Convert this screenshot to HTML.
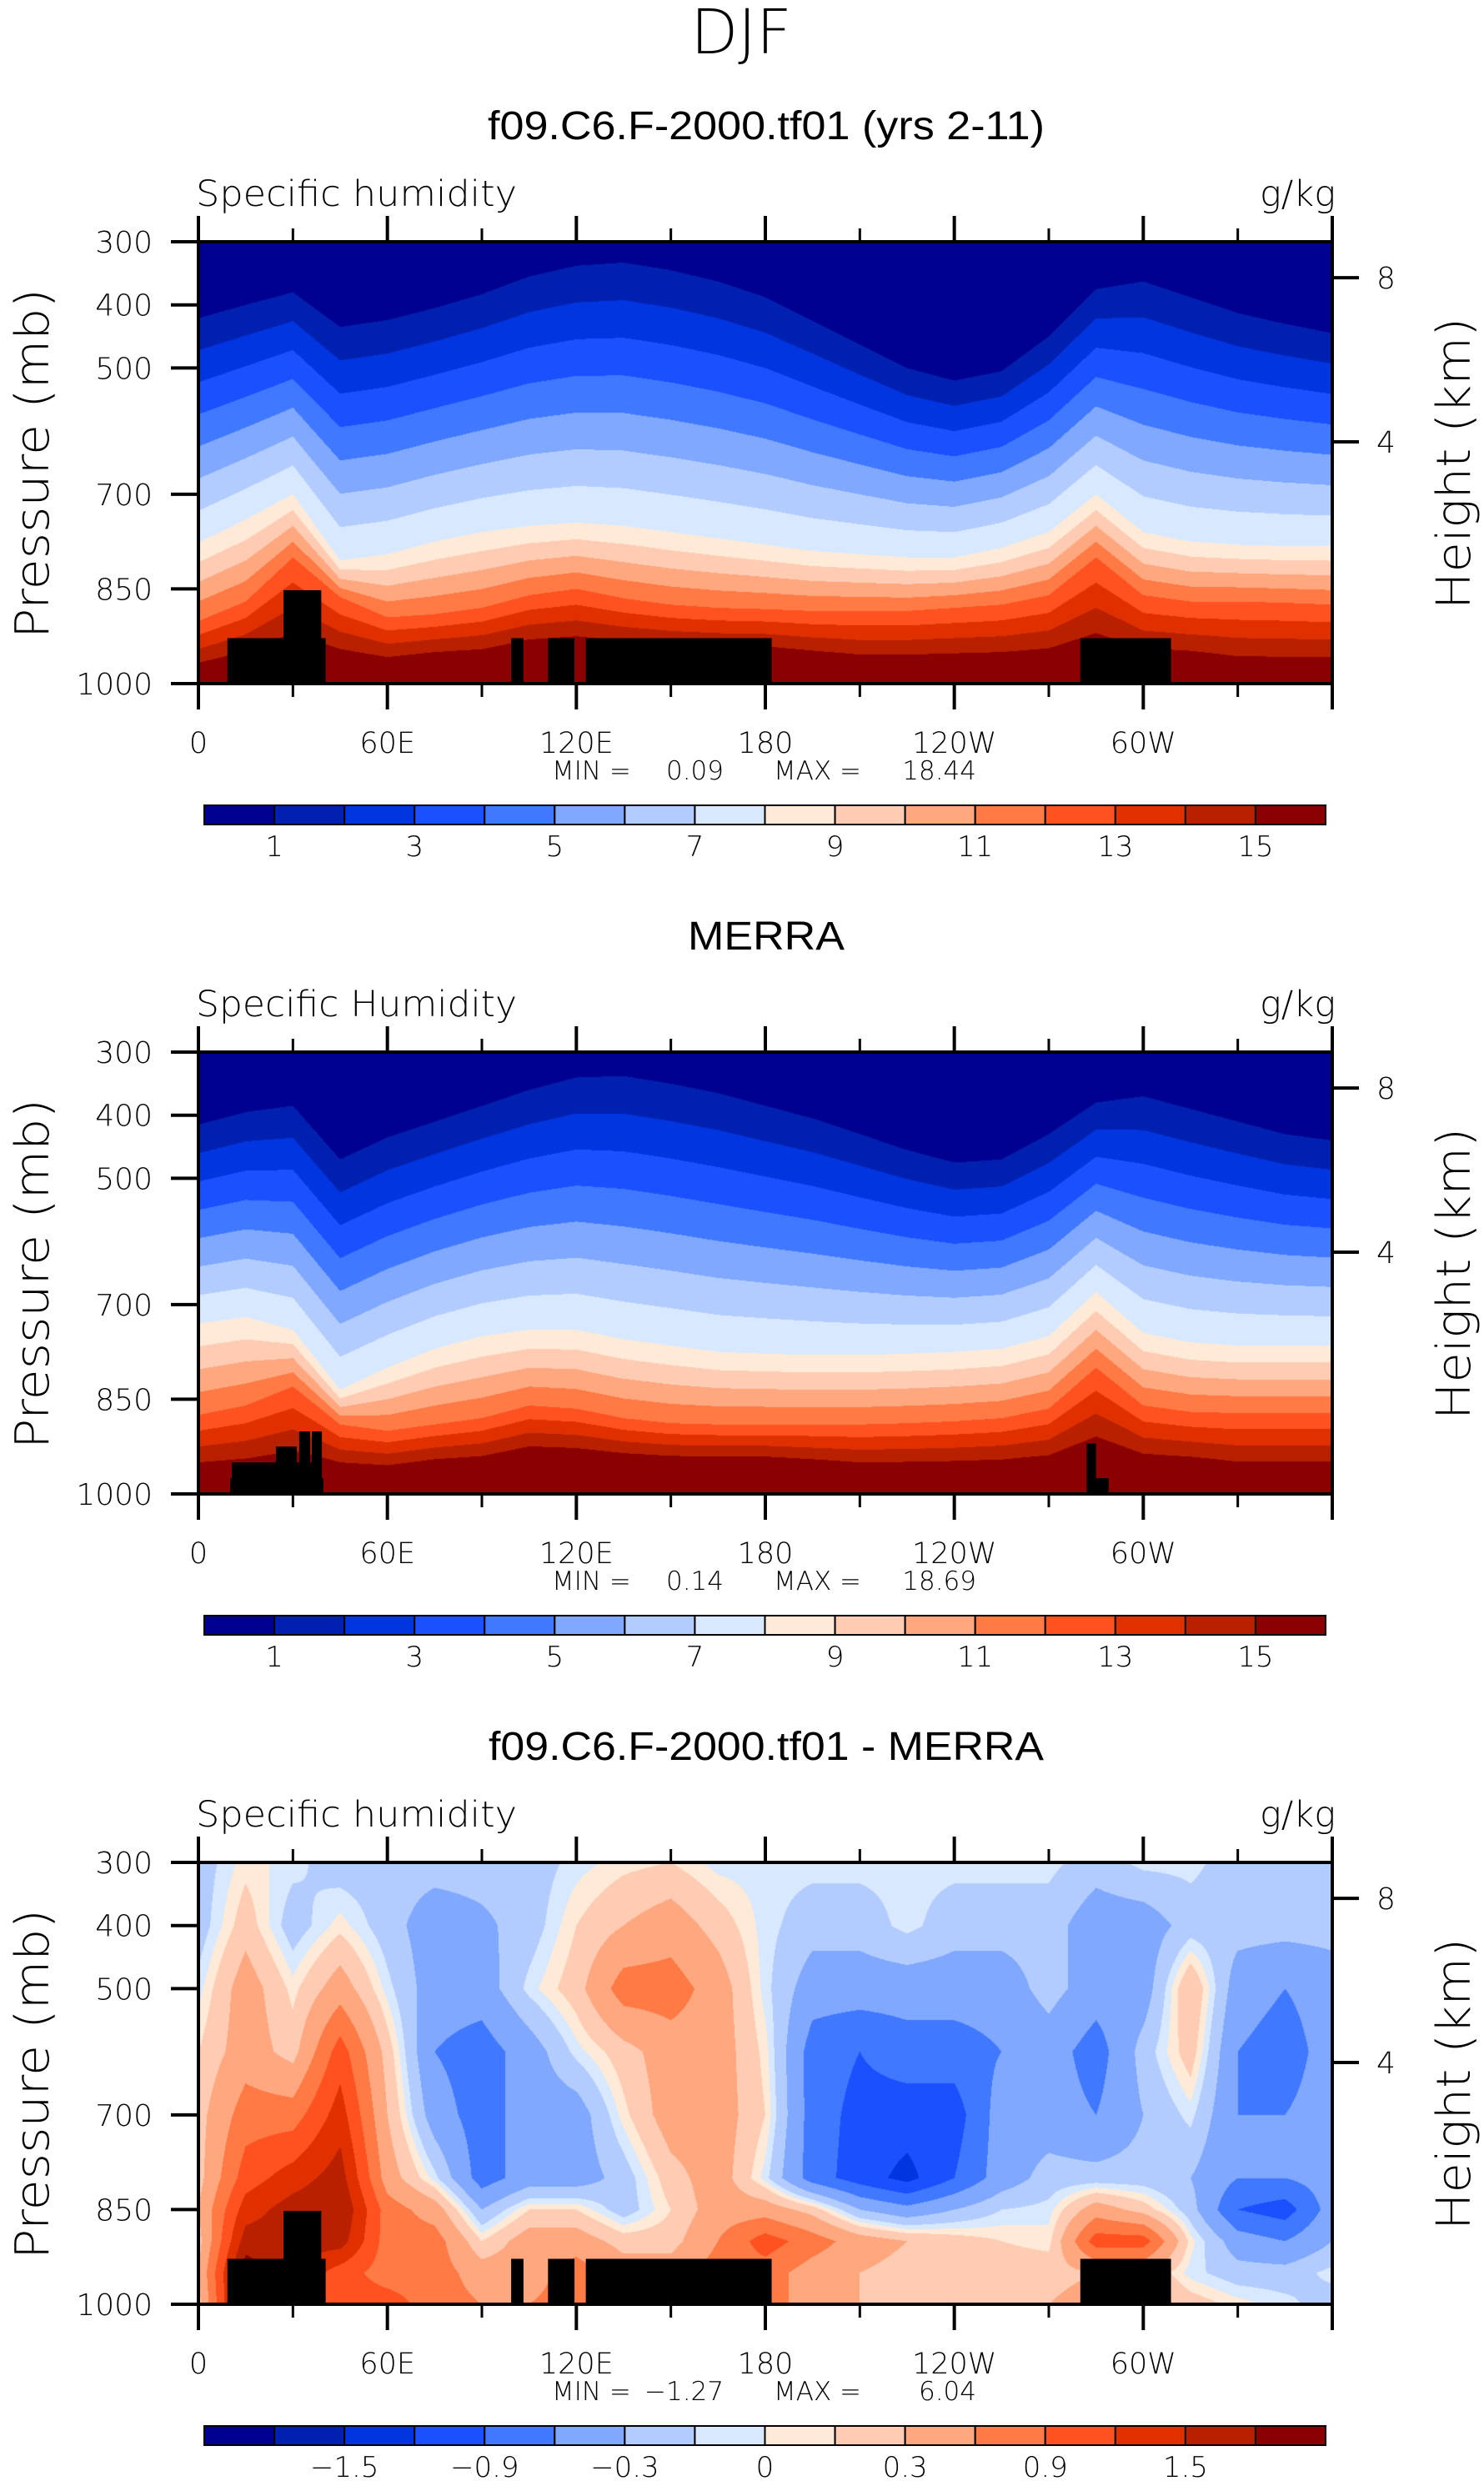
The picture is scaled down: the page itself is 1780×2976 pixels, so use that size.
<!DOCTYPE html>
<html><head><meta charset="utf-8"><title>DJF Specific humidity</title>
<style>
html,body{margin:0;padding:0;background:#fff;}
#wrap{position:relative;width:1780px;height:2976px;overflow:hidden;background:#fff;}
canvas{position:absolute;}
svg{position:absolute;left:0;top:0;}
text{font-family:"Liberation Sans",sans-serif;fill:#000;}
text.thin{font-family:"DejaVu Sans","Liberation Sans",sans-serif;font-weight:200;}
</style></head>
<body>
<div id="wrap">
<canvas id="c0" width="1360" height="530" style="left:238px;top:290px"></canvas>
<canvas id="c1" width="1360" height="530" style="left:238px;top:1262px"></canvas>
<canvas id="c2" width="1360" height="530" style="left:238px;top:2234px"></canvas>
<svg id="svg" width="1780" height="2976" xmlns="http://www.w3.org/2000/svg">
<text class="thin" x="889" y="64" font-size="74" text-anchor="middle">DJF</text>
</svg>
</div>
<script>
// ---- data ----
const lonGrid=[0,15,30,45,60,75,90,105,120,135,150,165,180,195,210,225,240,255,270,285,300,315,330,345,360];
// Panel 1 (model): pressure of q=1, q=8, q=12 contours and surface q
const m_p1=[421,400,380,435,424,405,383,355,338,333,345,363,388,425,463,500,520,505,450,375,363,388,413,430,445];
const m_p8=[777,740,700,805,795,775,760,750,745,750,760,770,780,790,795,800,800,785,760,700,760,775,780,782,782];
const m_p12=[901,870,800,863,895,890,880,860,850,865,875,880,882,885,885,885,880,875,860,800,860,870,870,872,875];
const m_qs=[16.5,17,17,17,17,17.5,17.5,18,18,18,18,18,18,17.5,17,17,17,17,17,17,17,17,16.5,16.5,16.5];
// Panel 2 (MERRA)
const r_p1=[415,395,385,470,435,410,385,360,340,338,350,365,385,405,430,455,475,470,430,380,370,390,410,430,440];
const r_p8=[730,720,740,835,800,770,750,740,740,755,765,775,778,780,780,778,775,770,750,680,745,760,765,765,765];
const r_p12=[875,860,830,890,900,890,880,860,865,880,888,890,890,890,890,888,885,880,865,800,860,870,872,872,872];
const r_qs=[17,17,17,17.5,17.5,18,18,18.5,18.5,18.5,18.5,18.5,18.5,18,17.5,17.5,17.5,17.5,17.5,17.5,17.5,17.5,17,17,17];
// Panel 3 (difference) values per pressure level
const diffP=[300,400,500,600,700,800,850,900,950,1000];
const d300=[-0.2,0.05,-0.05,-0.2,-0.2,-0.2,-0.2,-0.2,-0.05,0.05,0.1,-0.05,-0.05,-0.05,-0.05,-0.05,-0.05,-0.05,-0.05,-0.2,-0.05,-0.05,-0.2,-0.2,-0.2];
const d400=[-0.2,0.2,-0.2,0.05,-0.2,-0.45,-0.35,-0.2,0.1,0.3,0.45,0.2,-0.05,-0.2,-0.2,-0.05,-0.2,-0.2,-0.2,-0.45,-0.45,-0.2,-0.2,-0.2,-0.2];
const d500=[-0.05,0.45,0.05,0.45,-0.05,-0.45,-0.45,-0.05,0.2,0.75,0.75,0.45,-0.05,-0.45,-0.45,-0.45,-0.45,-0.45,-0.2,-0.45,-0.45,0.3,-0.45,-0.6,-0.45];
const d600=[0.1,0.45,0.2,1.05,0.2,-0.6,-0.75,-0.45,-0.05,0.2,0.45,0.45,0.05,-0.75,-0.9,-0.75,-0.75,-0.6,-0.45,-0.75,-0.2,0.2,-0.6,-0.75,-0.45];
const d700=[0.2,0.75,0.75,1.35,0.3,-0.45,-0.75,-0.45,-0.45,0.05,0.45,0.45,0.1,-0.75,-1.0,-1.05,-1.05,-0.45,-0.45,-0.6,-0.3,-0.05,-0.6,-0.6,-0.45];
const d800=[0.2,1.05,1.35,1.65,0.45,-0.05,-0.75,-0.45,-0.45,-0.2,0.2,0.45,-0.05,-0.75,-1.05,-1.3,-0.9,-0.45,-0.2,-0.2,-0.2,-0.3,-0.6,-0.6,-0.45];
const d850=[0.3,1.35,1.65,1.8,0.75,0.45,-0.3,0.1,0.1,-0.2,0.1,0.45,0.45,0.2,-0.3,-0.5,-0.3,-0.1,-0.05,0.45,0.2,-0.2,-0.9,-1.05,-0.45];
const d900=[0.2,1.65,1.65,1.65,0.75,0.75,0.1,0.45,0.45,0.2,0.2,0.6,1.05,0.75,0.45,0.3,0.2,0.1,0.05,1.05,1.05,0.05,-0.45,-0.6,-0.3];
const d950=[0.3,2.0,1.5,1.05,0.75,0.75,0.45,0.45,0.75,0.45,0.45,0.75,0.75,0.45,0.3,0.2,0.2,0.2,0.2,0.3,0.3,-0.05,-0.2,-0.2,-0.05];
const d1000=[0.2,2.0,1.5,1.05,1.05,0.75,0.6,0.6,0.75,0.75,0.6,0.75,0.75,0.45,0.3,0.2,0.2,0.2,0.3,0.45,0.45,0.2,0.05,-0.05,-0.2];
// contour levels & colour tick labels
const qLevels=[1,2,3,4,5,6,7,8,9,10,11,12,13,14,15];
const qLabels=["1","3","5","7","9","11","13","15"];
const dLevels=[-1.8,-1.5,-1.2,-0.9,-0.6,-0.3,-0.1,0,0.1,0.3,0.6,0.9,1.2,1.5,1.8];
const dLabels=["\u22121.5","\u22120.9","\u22120.3","0","0.3","0.9","1.5"];
const dLabelIdx=[1,3,5,7,9,11,13];
const qLabelIdx=[0,2,4,6,8,10,12,14];
// topography blocks
const topoA_lon0=[9.2,27,99.3,111,123,280];
const topoA_lon1=[40.4,39,103.2,119.4,182,308.8];
const topoA_p=[928,852,928,928,928,928];
const topoB_lon0=[10.1,10.6,24.6,32,36,282,283];
const topoB_lon1=[39.7,39.2,31.2,35.5,39.2,285,289];
const topoB_p=[975,950,925,901,901,920,975];
// axes
const pTicks=[300,400,500,700,850,1000];
const lonTicks=[0,60,120,180,240,300];
const lonLabels=["0","60E","120E","180","120W","60W"];
const kmTicks=[8,4];
const kmP=[357,617];
const mins=["0.09","0.14","\u22121.27"];
const maxs=["18.44","18.69","6.04"];

const palette=['#000090','#0020b0','#0035e0','#1a50ff','#4078ff','#80a8ff','#b3ccff','#d8e9ff','#ffead8','#ffccb3','#ffa880','#ff7a45','#ff5220','#e03000','#b82000','#8b0000'];
const PL=238,PR=1598,PH=530,tops=[290,1262,2234];
function xOf(lon){return PL+lon/360*(PR-PL);}
function yOf(p,top){return top+(p-300)/700*PH;}
function interp(arr,lon){let f=lon/15;let i=Math.min(Math.floor(f),arr.length-2);let t=f-i;return arr[i]+(arr[i+1]-arr[i])*t;}
function cls(v,lev){let k=0;while(k<lev.length&&v>=lev[k])k++;return k;}
function hex(c){return [parseInt(c.substr(1,2),16),parseInt(c.substr(3,2),16),parseInt(c.substr(5,2),16)];}
const pal=palette.map(hex);

function drawQ(id,p1,p8,p12,qs){
  const cv=document.getElementById(id),ctx=cv.getContext('2d');
  const img=ctx.createImageData(1360,530);
  for(let i=0;i<1360;i++){
    const lon=(i+0.5)/1360*360;
    const a=interp(p1,lon),b=interp(p8,lon),c=interp(p12,lon),s=interp(qs,lon);
    for(let j=0;j<530;j++){
      const p=300+(j+0.5)/530*700;let q;
      if(p<a)q=0.3+0.7*(p-300)/(a-300);
      else if(p<b)q=1+7*(p-a)/(b-a);
      else if(p<c)q=8+4*(p-b)/(c-b);
      else q=12+(s-12)*(p-c)/(1000-c);
      const col=pal[cls(q,qLevels)];const o=(j*1360+i)*4;
      img.data[o]=col[0];img.data[o+1]=col[1];img.data[o+2]=col[2];img.data[o+3]=255;
    }
  }
  ctx.putImageData(img,0,0);
}
function drawD(id){
  const rows=[d300,d400,d500,d600,d700,d800,d850,d900,d950,d1000];
  const cv=document.getElementById(id),ctx=cv.getContext('2d');
  const img=ctx.createImageData(1360,530);
  for(let i=0;i<1360;i++){
    const lon=(i+0.5)/1360*360;
    const col=rows.map(r=>interp(r,lon));
    for(let j=0;j<530;j++){
      const p=300+(j+0.5)/530*700;
      let k=0;while(k<diffP.length-2&&p>diffP[k+1])k++;
      const t=(p-diffP[k])/(diffP[k+1]-diffP[k]);
      const v=col[k]+(col[k+1]-col[k])*t;
      const c=pal[cls(v,dLevels)];const o=(j*1360+i)*4;
      img.data[o]=c[0];img.data[o+1]=c[1];img.data[o+2]=c[2];img.data[o+3]=255;
    }
  }
  ctx.putImageData(img,0,0);
}
drawQ('c0',m_p1,m_p8,m_p12,m_qs);
drawQ('c1',r_p1,r_p8,r_p12,r_qs);
drawD('c2');

const svg=document.getElementById('svg');const NS='http://www.w3.org/2000/svg';
function mk(tag,attrs,parent){const e=document.createElementNS(NS,tag);for(const k in attrs)e.setAttribute(k,attrs[k]);(parent||svg).appendChild(e);return e;}

const titles=["f09.C6.F-2000.tf01 (yrs 2-11)","MERRA","f09.C6.F-2000.tf01 - MERRA"];
const titleLen=[668,188,666];
const subs=["Specific humidity","Specific Humidity","Specific humidity"];
for(let k=0;k<3;k++){
  const top=tops[k];
  const g=mk('g',{});
  
  
  const tl0=k==1?topoB_lon0:topoA_lon0,tl1=k==1?topoB_lon1:topoA_lon1,tp=k==1?topoB_p:topoA_p;
  for(let b=0;b<tl0.length;b++){
    const r=mk('rect',{x:xOf(tl0[b]),y:yOf(tp[b],top),width:xOf(tl1[b])-xOf(tl0[b]),height:yOf(1000,top)-yOf(tp[b],top),fill:'#000'},g);
    
    
  }
  const t=mk('text',{x:919,y:top-123,'font-size':48,'text-anchor':'middle',textLength:titleLen[k],lengthAdjust:'spacingAndGlyphs'},g);
  t.textContent=titles[k];
  
  
  const s=mk('text',{class:'thin',x:235,y:top-43,'font-size':43,textLength:385,lengthAdjust:'spacingAndGlyphs'},g);
  s.textContent=subs[k];
  
  
  const u=mk('text',{class:'thin',x:1602,y:top-43,'font-size':43,'text-anchor':'end'},g);
  u.textContent='g/kg';
  
  
  const fr=mk('rect',{x:PL,y:top,width:PR-PL,height:PH,fill:'none',stroke:'#000','stroke-width':4},g);
  
  
  for(let lon=0;lon<=360;lon+=30){
    const major=lon%60==0;const L=major?31:16;const x=xOf(lon);
    mk('line',{x1:x,x2:x,y1:top+PH,y2:top+PH+L,stroke:'#000','stroke-width':major?4:3},g);
    mk('line',{x1:x,x2:x,y1:top,y2:top-L,stroke:'#000','stroke-width':major?4:3},g);
  }
  for(let i=0;i<lonTicks.length;i++){
    const tx=mk('text',{class:'thin',x:xOf(lonTicks[i]),y:top+PH+83,'font-size':35,'text-anchor':'middle'},g);
    tx.textContent=lonLabels[i];
    
    
  }
  for(let i=0;i<pTicks.length;i++){
    const y=yOf(pTicks[i],top);
    mk('line',{x1:205,x2:PL,y1:y,y2:y,stroke:'#000','stroke-width':4},g);
    const ty=mk('text',{class:'thin',x:183,y:y+13,'font-size':36,'text-anchor':'end'},g);
    ty.textContent=String(pTicks[i]);
    
    
  }
  for(let i=0;i<kmTicks.length;i++){
    const y=yOf(kmP[i],top);
    mk('line',{x1:PR,x2:1630,y1:y,y2:y,stroke:'#000','stroke-width':4},g);
    const ty=mk('text',{class:'thin',x:1651,y:y+13,'font-size':36},g);
    ty.textContent=String(kmTicks[i]);
    
    
  }
  const yl=mk('text',{class:'thin',x:0,y:0,'font-size':56,'text-anchor':'middle',transform:'translate(58,'+(top+266)+') rotate(-90)',textLength:420,lengthAdjust:'spacingAndGlyphs'},g);
  yl.textContent='Pressure (mb)';
  
  
  const yr=mk('text',{class:'thin',x:0,y:0,'font-size':56,'text-anchor':'middle',transform:'translate(1763,'+(top+266)+') rotate(-90)',textLength:350,lengthAdjust:'spacingAndGlyphs'},g);
  yr.textContent='Height (km)';
  
  
  const a1=mk('text',{class:'thin',x:662,y:top+PH+115,'font-size':31},g);a1.textContent='MIN =';
  
  
  const a2=mk('text',{class:'thin',x:868,y:top+PH+115,'font-size':31,'text-anchor':'end'},g);a2.textContent=mins[k];
  
  
  const a3=mk('text',{class:'thin',x:928,y:top+PH+115,'font-size':31},g);a3.textContent='MAX =';
  
  
  const a4=mk('text',{class:'thin',x:1171,y:top+PH+115,'font-size':31,'text-anchor':'end'},g);a4.textContent=maxs[k];
  
  
  const cy=top+676,cx0=245,cw=(1590-245)/16,ch=23;
  for(let b=0;b<16;b++){
    const r=mk('rect',{x:cx0+b*cw,y:cy,width:cw,height:ch,fill:palette[b],stroke:'#000','stroke-width':2},g);
    
    
  }
  const labs=k==2?dLabels:qLabels,idx=k==2?dLabelIdx:qLabelIdx;
  for(let i=0;i<labs.length;i++){
    const tx=mk('text',{class:'thin',x:cx0+(idx[i]+1)*cw,y:cy+61,'font-size':34,'text-anchor':'middle'},g);
    tx.textContent=labs[i];
    
    
  }
}
</script>
</body></html>
